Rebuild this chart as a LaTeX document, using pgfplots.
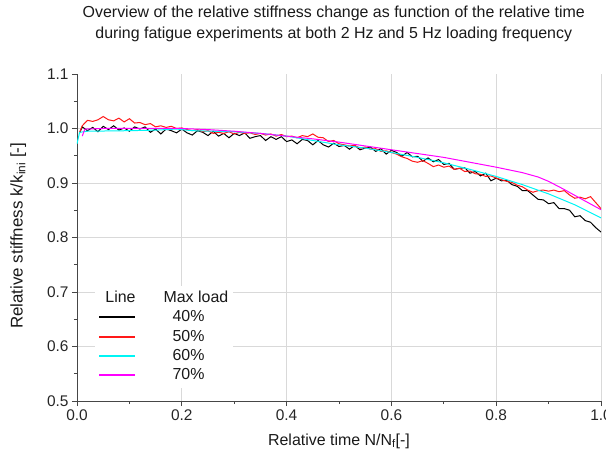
\documentclass[border=0pt]{standalone}
\usepackage{fontspec}
\setmainfont{Liberation Sans}
\usepackage{pgfplots}
\pgfplotsset{compat=1.18}
\definecolor{cRed}{RGB}{255,25,25}
\definecolor{cCyan}{RGB}{0,245,245}
\definecolor{cMagenta}{RGB}{255,0,255}
\definecolor{cAxis}{RGB}{70,70,70}

\begin{document}
\begin{tikzpicture}
\begin{axis}[
    at={(0,0)}, anchor=south west,
    scale only axis,
    width=524bp, height=327bp,
    xmin=0, xmax=1, ymin=0.5, ymax=1.1,
    axis x line=bottom, axis y line=left,
    axis line style={-, draw=cAxis, line width=0.9bp},
    xtick={0,0.2,0.4,0.6,0.8,1.0},
    minor xtick={0.1,0.3,0.5,0.7,0.9},
    ytick={0.5,0.6,0.7,0.8,0.9,1.0},
    extra y ticks={1.1},
    extra tick style={grid=none},
    minor ytick={0.55,0.65,0.75,0.85,0.95,1.05},
    tick align=outside,
    major tick length=5bp, minor tick length=3bp,
    tick style={draw=cAxis, line width=0.9bp},
    grid=major,
    grid style={gray!30, line width=0.8bp},
    /pgf/number format/.cd, fixed, fixed zerofill, precision=1, assume math mode=true,
    /pgfplots/.cd,
    tick label style={font=\fontsize{15.5}{18}\selectfont, text=black!85},
    label style={font=\fontsize{16}{19}\selectfont, text=black!90},
    xlabel={Relative time N/N\textsubscript{f}[-]},
    ylabel={Relative stiffness k/k\textsubscript{ini} [-]},
    xlabel style={at={(axis description cs:0.5,-0.122)}, anchor=center},
    ylabel style={at={(axis description cs:-0.112,0.505)}, anchor=center,
        font=\fontsize{17}{20}\selectfont},
    title={Overview of the relative stiffness change as function of the relative time\\during fatigue experiments at both 2 Hz and 5 Hz loading frequency},
    title style={at={(axis description cs:0.490,1.135)}, anchor=center, align=center,
        font=\fontsize{16}{21}\selectfont, text=black!90},
    legend style={at={(axis description cs:0.034,0.352)}, anchor=north west,
        draw=none, fill=white, font=\fontsize{16}{19}\selectfont, text=black!90,
        cells={anchor=west}, row sep=0bp, inner sep=3bp,
        nodes={text height=12bp, text depth=4bp, inner sep=1.6bp}},
    legend image code/.code={\draw[#1, line width=2bp] (0bp,0.5bp) -- (36bp,0.5bp);},
]
\addlegendimage{empty legend}
\addlegendentry{\hspace{26bp}\makebox[0pt][r]{Line\hspace{28bp}}Max load}

% 40 %
\addplot[black, line width=1bp] coordinates {
(0.005,0.992) (0.01,1.003) (0.02,0.996) (0.03,1.002) (0.04,0.994) (0.05,1.004)
(0.06,0.998) (0.07,1.005) (0.08,0.997) (0.09,1.001) (0.10,0.995) (0.11,1.003)
(0.12,0.999) (0.13,1.003) (0.14,0.993) (0.15,0.999) (0.16,0.990) (0.17,0.999)
(0.18,0.996) (0.19,0.992) (0.20,0.999) (0.21,0.992) (0.22,0.988) (0.23,0.996)
(0.24,0.993) (0.25,0.987) (0.26,0.995) (0.27,0.986) (0.28,0.991) (0.29,0.983)
(0.30,0.991) (0.31,0.987) (0.32,0.992) (0.33,0.982) (0.34,0.985) (0.35,0.987)
(0.36,0.978) (0.37,0.985) (0.38,0.980) (0.39,0.985) (0.40,0.976) (0.41,0.979)
(0.42,0.972) (0.43,0.980) (0.44,0.978) (0.45,0.970) (0.46,0.978) (0.47,0.970)
(0.48,0.966) (0.49,0.973) (0.50,0.967) (0.51,0.969) (0.52,0.962) (0.53,0.969)
(0.54,0.961) (0.55,0.964) (0.56,0.966) (0.57,0.958) (0.58,0.963) (0.59,0.953)
(0.60,0.960) (0.61,0.956) (0.62,0.949) (0.63,0.956) (0.64,0.948) (0.65,0.949)
(0.66,0.940) (0.67,0.946) (0.68,0.939) (0.69,0.943) (0.70,0.934) (0.71,0.936)
(0.72,0.925) (0.73,0.927) (0.74,0.928) (0.75,0.918) (0.76,0.921) (0.77,0.913)
(0.78,0.918) (0.79,0.904) (0.80,0.909) (0.81,0.904) (0.82,0.905) (0.83,0.897)
(0.84,0.894) (0.85,0.886) (0.86,0.886) (0.87,0.878) (0.88,0.870) (0.89,0.869)
(0.90,0.862) (0.91,0.864) (0.92,0.853) (0.93,0.853) (0.94,0.850) (0.95,0.838)
(0.96,0.840) (0.97,0.831) (0.98,0.828) (0.99,0.818) (1.00,0.810)
};
\addlegendentry{\hspace{35bp}40\%}

% 50 %
\addplot[cRed, line width=1bp] coordinates {
(0.005,0.993) (0.01,1.005) (0.02,1.015) (0.03,1.013) (0.04,1.016) (0.05,1.022)
(0.06,1.016) (0.07,1.014) (0.08,1.019) (0.09,1.012) (0.10,1.018) (0.11,1.010)
(0.12,1.011) (0.13,1.007) (0.14,1.009) (0.15,1.003) (0.16,1.005) (0.17,1.002)
(0.18,1.004) (0.19,1.000) (0.20,1.001) (0.21,0.998) (0.22,0.996) (0.23,0.998)
(0.24,0.994) (0.25,0.996) (0.26,0.991) (0.27,0.993) (0.28,0.991) (0.29,0.994)
(0.30,0.990) (0.31,0.993) (0.32,0.991) (0.33,0.992) (0.34,0.989) (0.35,0.991)
(0.36,0.988) (0.37,0.990) (0.38,0.986) (0.39,0.989) (0.40,0.985) (0.41,0.986)
(0.42,0.983) (0.43,0.987) (0.44,0.985) (0.45,0.990) (0.46,0.984) (0.47,0.983)
(0.48,0.976) (0.49,0.978) (0.50,0.972) (0.51,0.970) (0.52,0.968) (0.53,0.969)
(0.54,0.964) (0.55,0.966) (0.56,0.962) (0.57,0.963) (0.58,0.958) (0.59,0.959)
(0.60,0.956) (0.61,0.953) (0.62,0.948) (0.63,0.945) (0.64,0.940) (0.65,0.938)
(0.66,0.941) (0.67,0.936) (0.68,0.930) (0.69,0.933) (0.70,0.929) (0.71,0.931)
(0.72,0.925) (0.73,0.927) (0.74,0.921) (0.75,0.922) (0.76,0.917) (0.77,0.916)
(0.78,0.912) (0.79,0.913) (0.80,0.909) (0.81,0.906) (0.82,0.903) (0.83,0.901)
(0.84,0.896) (0.85,0.893) (0.86,0.887) (0.87,0.883) (0.88,0.886) (0.89,0.887)
(0.90,0.885) (0.91,0.887) (0.92,0.884) (0.93,0.886) (0.94,0.878) (0.95,0.872)
(0.96,0.874) (0.97,0.871) (0.98,0.875) (0.99,0.864) (1.00,0.853)
};
\addlegendentry{\hspace{35bp}50\%}

% 60 %
\addplot[cCyan, line width=1bp] coordinates {
(0,0.972) (0.005,0.993) (0.02,0.995) (0.10,0.996) (0.15,0.997) (0.19,0.999)
(0.22,0.996) (0.30,0.994) (0.35,0.991) (0.40,0.986) (0.45,0.978) (0.50,0.970)
(0.55,0.964) (0.60,0.956) (0.65,0.947) (0.70,0.937) (0.75,0.925) (0.80,0.912)
(0.85,0.897) (0.90,0.880) (0.95,0.860) (1.00,0.836)
};
\addlegendentry{\hspace{35bp}60\%}

% 70 %
\addplot[cMagenta, line width=1bp] coordinates {
(0.01,0.986) (0.015,0.999) (0.05,1.000) (0.20,1.000) (0.25,0.998) (0.30,0.995)
(0.35,0.991) (0.40,0.986) (0.45,0.981) (0.50,0.975) (0.55,0.968) (0.60,0.961)
(0.65,0.954) (0.70,0.947) (0.75,0.938) (0.80,0.929) (0.85,0.919) (0.88,0.911)
(0.90,0.903) (0.93,0.888) (0.96,0.872) (1.00,0.851)
};
\addlegendentry{\hspace{35bp}70\%}
\end{axis}
\pgfresetboundingbox
\useasboundingbox (-77bp,-51bp) rectangle (529bp,401bp);
\end{tikzpicture}
\end{document}
